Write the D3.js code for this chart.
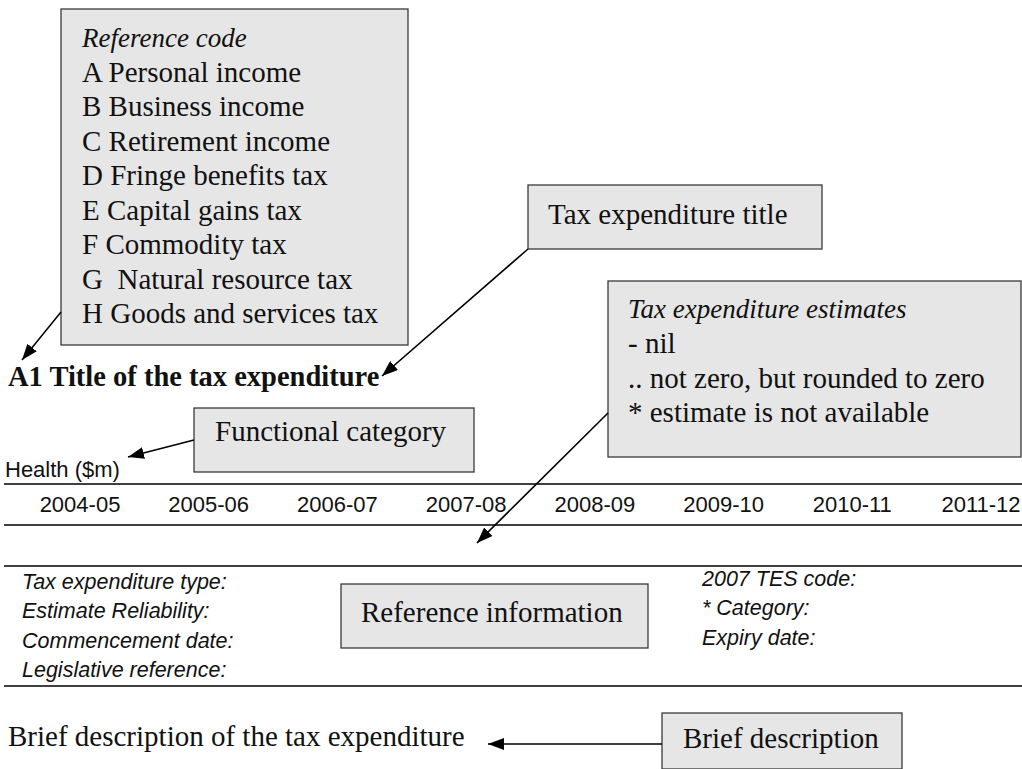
<!DOCTYPE html>
<html>
<head>
<meta charset="utf-8">
<script src="https://cdn.jsdelivr.net/npm/d3@7"></script>
<style>
  body { margin: 0; background: #fff; }
  svg { display: block; }
  text { white-space: pre; }
  .serif { font-family: "Liberation Serif", "Times New Roman", serif; fill: #111; }
  .sans { font-family: "Liberation Sans", Arial, sans-serif; fill: #111; }
</style>
</head>
<body>
<div id="chart"></div>
<script>
// content of the layout diagram
const years = ["2004-05", "2005-06", "2006-07", "2007-08", "2008-09", "2009-10", "2010-11", "2011-12"];
const referenceCodes = ["A Personal income", "B Business income", "C Retirement income", "D Fringe benefits tax",
  "E Capital gains tax", "F Commodity tax", "G  Natural resource tax", "H Goods and services tax"];
const estimateNotes = ["- nil", ".. not zero, but rounded to zero", "* estimate is not available"];
const leftLabels = ["Tax expenditure type:", "Estimate Reliability:", "Commencement date:", "Legislative reference:"];
const rightLabels = ["2007 TES code:", "* Category:", "Expiry date:"];

const W = 1022, H = 769;
const svg = d3.select("#chart").append("svg").attr("width", W).attr("height", H);

// arrowhead marker
svg.append("defs").append("marker")
  .attr("id", "head")
  .attr("markerUnits", "userSpaceOnUse")
  .attr("viewBox", "0 0 16 12")
  .attr("refX", 16).attr("refY", 6)
  .attr("markerWidth", 16).attr("markerHeight", 12)
  .attr("orient", "auto")
  .append("path").attr("d", "M0,0 L16,6 L0,12 Z").attr("fill", "#000");

// draws a grey callout box
function box(x, y, w, h) {
  svg.append("rect")
    .attr("x", x).attr("y", y).attr("width", w).attr("height", h)
    .attr("fill", "#e6e6e6").attr("stroke", "#3a3a3a").attr("stroke-width", 1.3);
}
function arrow(x1, y1, x2, y2) {
  svg.append("line")
    .attr("x1", x1).attr("y1", y1).attr("x2", x2).attr("y2", y2)
    .attr("stroke", "#000").attr("stroke-width", 1.6)
    .attr("marker-end", "url(#head)");
}
function rule(y) {
  svg.append("line").attr("x1", 4).attr("x2", W).attr("y1", y).attr("y2", y)
    .attr("stroke", "#000").attr("stroke-width", 1.4);
}

// reference code box
box(61, 9, 347, 336);
svg.append("text").attr("class", "serif").attr("x", 82).attr("y", 47)
  .attr("font-size", 27).attr("font-style", "italic").text("Reference code");
const codeY = d3.scalePoint().domain(d3.range(referenceCodes.length)).range([82, 323]);
svg.selectAll(".code").data(referenceCodes).join("text")
  .attr("class", "serif code")
  .attr("x", 82).attr("y", (d, i) => codeY(i))
  .attr("font-size", 29).text(d => d);
arrow(61, 312, 22, 360);

// title and its callout
svg.append("text").attr("class", "serif").attr("x", 8).attr("y", 386)
  .attr("font-size", 28.5).attr("font-weight", "bold").text("A1 Title of the tax expenditure");
box(528, 185, 294, 64);
svg.append("text").attr("class", "serif").attr("x", 548).attr("y", 224)
  .attr("font-size", 29).text("Tax expenditure title");
arrow(528, 249, 382, 376);

// estimates callout
box(608, 281, 413, 176);
svg.append("text").attr("class", "serif").attr("x", 628).attr("y", 318)
  .attr("font-size", 27).attr("font-style", "italic").text("Tax expenditure estimates");
const noteY = d3.scalePoint().domain(d3.range(estimateNotes.length)).range([353, 422]);
svg.selectAll(".note").data(estimateNotes).join("text")
  .attr("class", "serif note")
  .attr("x", 628).attr("y", (d, i) => noteY(i))
  .attr("font-size", 29).text(d => d);

// functional category callout
box(194, 408, 280, 64);
svg.append("text").attr("class", "serif").attr("x", 215).attr("y", 441)
  .attr("font-size", 29).text("Functional category");
arrow(194, 440, 128, 457);

svg.append("text").attr("class", "sans").attr("x", 5).attr("y", 477)
  .attr("font-size", 22).text("Health ($m)");

// years row
rule(484);
const x = d3.scalePoint().domain(years).range([80, 981]);
svg.selectAll(".year").data(years).join("text")
  .attr("class", "sans year")
  .attr("x", d => x(d)).attr("y", 512)
  .attr("text-anchor", "middle").attr("font-size", 22).text(d => d);
rule(525);
rule(566);
arrow(608, 413, 477, 543);

// reference information block
const rowY = d3.scalePoint().domain(d3.range(leftLabels.length)).range([589, 677]);
svg.selectAll(".left").data(leftLabels).join("text")
  .attr("class", "sans left")
  .attr("x", 22).attr("y", (d, i) => rowY(i))
  .attr("font-size", 21.5).attr("font-style", "italic").text(d => d);
svg.selectAll(".right").data(rightLabels).join("text")
  .attr("class", "sans right")
  .attr("x", 702).attr("y", (d, i) => rowY(i) - 3)
  .attr("font-size", 21.5).attr("font-style", "italic").text(d => d);
box(341, 584, 307, 64);
svg.append("text").attr("class", "serif").attr("x", 361).attr("y", 622)
  .attr("font-size", 29).text("Reference information");
rule(686);

// brief description
svg.append("text").attr("class", "serif").attr("x", 8).attr("y", 746)
  .attr("font-size", 29).text("Brief description of the tax expenditure");
box(662, 713, 240, 56);
svg.append("text").attr("class", "serif").attr("x", 683).attr("y", 748)
  .attr("font-size", 29).text("Brief description");
arrow(662, 744, 488, 744);
</script>
</body>
</html>
